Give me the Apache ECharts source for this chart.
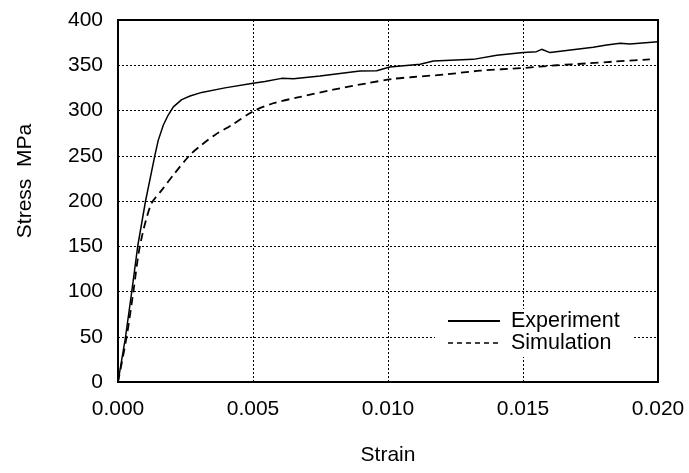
<!DOCTYPE html>
<html>
<head>
<meta charset="utf-8">
<script src="https://cdn.jsdelivr.net/npm/echarts@6/dist/echarts.min.js"></script>
<style>
html,body{margin:0;padding:0;background:#fff;}
#chart{width:689px;height:473px;}
</style>
</head>
<body>
<div id="chart"></div>
<script>
// Experiment curve
const expStrain = [0, 0.00028, 0.00051, 0.00073, 0.00102, 0.00137, 0.00149, 0.00168, 0.00186, 0.00205, 0.00236, 0.00267, 0.0031, 0.00396, 0.005, 0.00544, 0.00606, 0.0065, 0.00748, 0.00896, 0.00958, 0.01007, 0.01119, 0.01168, 0.01316, 0.01403, 0.01501, 0.0155, 0.01569, 0.016, 0.0176, 0.0181, 0.0186, 0.01896, 0.02];
const expStress = [0, 50, 100, 150, 200, 251, 267, 284, 295, 304, 312, 316, 320, 325, 330, 332, 335.5, 335, 338, 343.6, 344, 348, 351, 354.7, 356.5, 361, 364, 365, 367.6, 364, 370, 372.4, 374.3, 373.5, 376];
// Simulation curve
const simStrain = [0, 0.00032, 0.00057, 0.00081, 0.00122, 0.00162, 0.00211, 0.00267, 0.0031, 0.00359, 0.00421, 0.005, 0.00575, 0.00674, 0.00797, 0.00921, 0.0102, 0.01094, 0.01217, 0.01341, 0.01501, 0.01625, 0.01736, 0.01835, 0.0197];
const simStress = [0, 50, 100, 150, 196, 212, 231, 251, 262, 273, 284, 299, 308, 315, 323, 330, 335, 337, 340, 344, 347, 350, 352, 354, 356.5];

const seriesNames = ['Experiment', 'Simulation'];
const xTitle = 'Strain';
const yTitle = 'Stress  MPa';

const FONT = '"Liberation Sans", Arial, Helvetica, sans-serif';
const zip = (a, b) => a.map((v, i) => [v, b[i]]);

const chart = echarts.init(document.getElementById('chart'), null, {renderer: 'canvas'});
chart.setOption({
  animation: false,
  backgroundColor: '#fff',
  textStyle: {fontFamily: FONT, color: '#000'},
  grid: {left: 118, right: 31, top: 20, bottom: 91, show: true, borderColor: '#000', borderWidth: 2, backgroundColor: 'transparent'},
  xAxis: {
    type: 'value', min: 0, max: 0.02, interval: 0.005,
    name: xTitle, nameLocation: 'middle', nameGap: 63,
    nameTextStyle: {fontSize: 21, color: '#000', fontFamily: FONT},
    axisLine: {show: true, lineStyle: {color: '#000', width: 2}},
    axisTick: {show: false},
    axisLabel: {fontSize: 21, color: '#000', margin: 17, fontFamily: FONT, formatter: v => v.toFixed(3)},
    splitLine: {show: true, showMinLine: false, showMaxLine: false, lineStyle: {color: '#000', width: 1, type: [2, 2]}}
  },
  yAxis: {
    type: 'value', min: 0, max: 400, interval: 50,
    axisLine: {show: true, lineStyle: {color: '#000', width: 2}},
    axisTick: {show: false},
    axisLabel: {fontSize: 21, color: '#000', margin: 15, fontFamily: FONT},
    splitLine: {show: true, showMinLine: false, showMaxLine: false, lineStyle: {color: '#000', width: 1, type: [2, 2]}}
  },
  legend: {
    orient: 'vertical', left: 435, top: 309,
    backgroundColor: '#fff',
    padding: [1, 14, 3, 12],
    itemWidth: 52, itemHeight: 14, itemGap: 0,
    itemStyle: {color: 'rgba(0,0,0,0)', borderColor: 'rgba(0,0,0,0)', borderWidth: 0, opacity: 0},
    lineStyle: {color: '#000'},
    textStyle: {fontSize: 21.5, color: '#000', fontFamily: FONT, lineHeight: 22, padding: [0, 0, 0, 6]},
    data: [
      {name: seriesNames[0]},
      {name: seriesNames[1], lineStyle: {type: [5, 4], width: 1.5, color: '#000'}}
    ]
  },
  graphic: [{
    type: 'text', x: 25, y: 181, rotation: Math.PI / 2,
    style: {text: yTitle, fontSize: 21, fontFamily: FONT, fill: '#000', align: 'center', verticalAlign: 'middle'}
  }],
  series: [
    {
      name: seriesNames[0], type: 'line', symbol: 'none', smooth: false,
      data: zip(expStrain, expStress),
      lineStyle: {color: '#000', width: 1.5, type: 'solid'},
      itemStyle: {color: '#000'}
    },
    {
      name: seriesNames[1], type: 'line', symbol: 'none', smooth: 0.3,
      data: zip(simStrain, simStress),
      lineStyle: {color: '#000', width: 1.8, type: [8, 5]},
      itemStyle: {color: '#000'}
    }
  ]
});
</script>
</body>
</html>
